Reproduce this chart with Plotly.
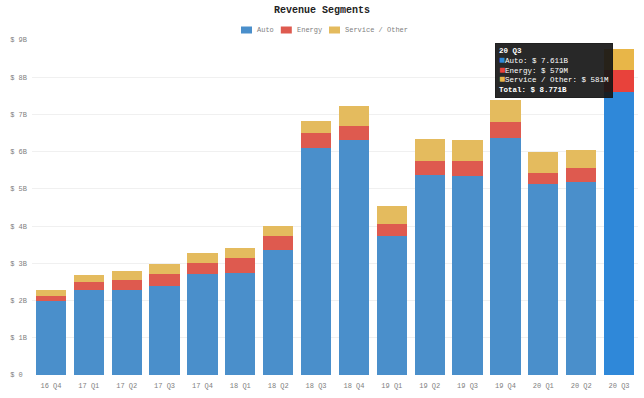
import plotly.graph_objects as go

quarters = ["16 Q4", "17 Q1", "17 Q2", "17 Q3", "17 Q4", "18 Q1", "18 Q2", "18 Q3",
            "18 Q4", "19 Q1", "19 Q2", "19 Q3", "19 Q4", "20 Q1", "20 Q2", "20 Q3"]
auto = [1.994, 2.290, 2.271, 2.386, 2.702, 2.735, 3.358, 6.099,
        6.323, 3.723, 5.376, 5.353, 6.368, 5.132, 5.179, 7.611]
energy = [0.131, 0.214, 0.287, 0.318, 0.298, 0.410, 0.374, 0.399,
          0.371, 0.325, 0.368, 0.402, 0.436, 0.293, 0.370, 0.579]
service = [0.160, 0.192, 0.231, 0.280, 0.288, 0.263, 0.270, 0.326,
           0.532, 0.493, 0.606, 0.548, 0.580, 0.560, 0.487, 0.581]
series_names = ["Auto", "Energy", "Service / Other"]
ytick_vals = [0, 1, 2, 3, 4, 5, 6, 7, 8, 9]
ytick_text = ["$ 0\u00a0", "$ 1B", "$ 2B", "$ 3B", "$ 4B", "$ 5B", "$ 6B", "$ 7B", "$ 8B", "$ 9B"]

base_colors = ["#4a8fcb", "#de5a4f", "#e4bb5e"]
hover_colors = ["#2f88d9", "#e8423b", "#e8b648"]
hovered = len(quarters) - 1

FONT = "Liberation Mono, DejaVu Sans Mono, monospace"
W, H = 644, 398
ML, MR, MT, MB = 32, 6, 40, 23
PW = W - ML - MR
PH = H - MT - MB

fig = go.Figure()
for name, vals, bc, hc in zip(series_names, [auto, energy, service], base_colors, hover_colors):
    cols = [hc if i == hovered else bc for i in range(len(quarters))]
    fig.add_trace(go.Bar(x=quarters, y=vals, name=name, marker=dict(color=cols, line=dict(width=0))))


def px_x(p):
    return (p - ML) / PW


def px_y(p):
    return (H - MB - p) / PH


shapes = []
annots = []
lx = 241
ly = 30
for name, c in zip(series_names, base_colors):
    shapes.append(dict(type="rect", xref="paper", yref="paper",
                       x0=px_x(lx), x1=px_x(lx + 11), y0=px_y(ly + 3.5), y1=px_y(ly - 3.5),
                       fillcolor=c, line=dict(width=0)))
    annots.append(dict(x=px_x(lx + 14), y=px_y(ly), xref="paper", yref="paper",
                       text=name, showarrow=False, xanchor="left", yanchor="middle",
                       font=dict(family=FONT, size=7, color="#808080")))
    lx += 14 + len(name) * 4.2 + 9

# tooltip
i = hovered
tot = auto[i] + energy[i] + service[i]


def fmt(v):
    return f"$ {v:.3f}B" if v >= 1 else f"$ {v*1000:.0f}M"


lines = [f"<b>{quarters[i]}</b>"]
for name, vals, c in zip(series_names, [auto, energy, service], hover_colors):
    lines.append(f"<span style='color:{c};font-size:10px'>■</span>{name}: {fmt(vals[i])}")
lines.append(f"<b>Total: {fmt(tot)}</b>")
annots.append(dict(x=quarters[i], y=px_y(43), xref="x", yref="paper",
                   text="<br>".join(lines), showarrow=False, xanchor="right", yanchor="top",
                   xshift=-6, align="left", bgcolor="rgba(22,22,22,0.92)",
                   bordercolor="rgba(22,22,22,0.92)", borderpad=3,
                   font=dict(family=FONT, size=7.5, color="#ffffff")))

fig.update_layout(
    width=W, height=H,
    margin=dict(l=ML, r=MR, t=MT, b=MB),
    barmode="stack", bargap=0.2,
    showlegend=False,
    plot_bgcolor="#ffffff", paper_bgcolor="#ffffff",
    title=dict(text="<b>Revenue Segments</b>", x=0.5, xanchor="center", y=1 - 9 / H,
               yanchor="middle", font=dict(family=FONT, size=10, color="#222222")),
    shapes=shapes, annotations=annots,
    xaxis=dict(showgrid=False, showline=False, ticks="", zeroline=False,
               ticklabelstandoff=5,
               tickfont=dict(family=FONT, size=7, color="#808080")),
    yaxis=dict(range=[0, 9], tickvals=ytick_vals, ticktext=ytick_text,
               showgrid=True, gridcolor="#f0f0f0", gridwidth=1, zeroline=False,
               showline=False, ticks="", ticklabelstandoff=4,
               tickfont=dict(family=FONT, size=7, color="#808080")),
)
fig.write_html("out.html", config={"displayModeBar": False},
               post_script="document.body.style.margin='0';")
